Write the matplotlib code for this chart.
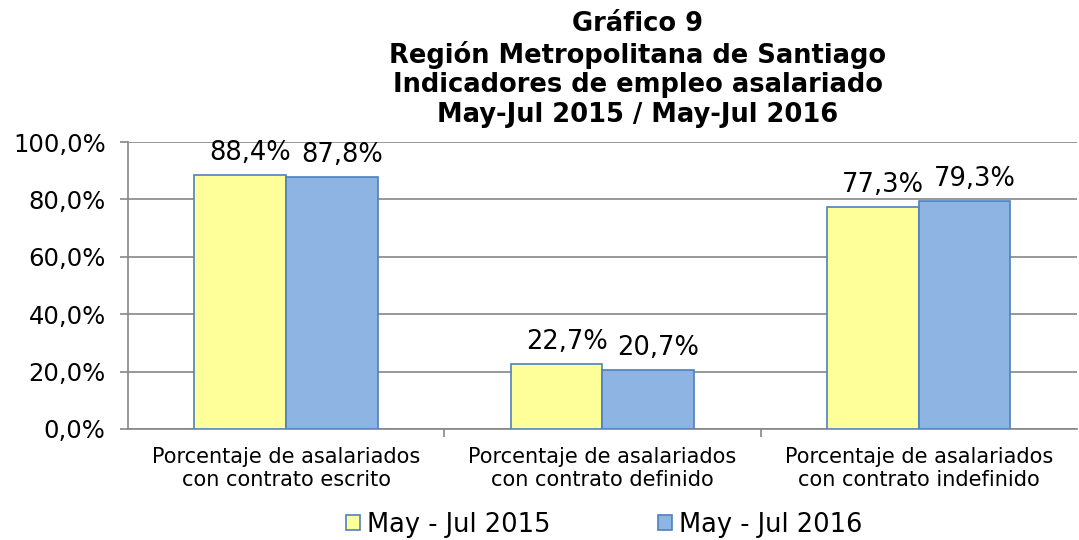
import numpy as np
import matplotlib.pyplot as plt
from matplotlib.ticker import FuncFormatter
from matplotlib.transforms import offset_copy

# data
categorias = ["Porcentaje de asalariados\ncon contrato escrito",
              "Porcentaje de asalariados\ncon contrato definido",
              "Porcentaje de asalariados\ncon contrato indefinido"]
serie_2015 = [88.4, 22.7, 77.3]
serie_2016 = [87.8, 20.7, 79.3]
etiquetas = ["May - Jul 2015", "May - Jul 2016"]
titulo = "Gráfico 9\nRegión Metropolitana de Santiago\nIndicadores de empleo asalariado\nMay-Jul 2015 / May-Jul 2016"

plt.rcParams['font.family'] = ['DejaVu Sans']

fig = plt.figure(figsize=(10.79, 5.4), dpi=100)
ax = fig.add_axes([0.1186, 0.2056, 0.8794, 0.5314])

x = np.arange(len(categorias))
w = 0.29
edge = "#4F81BD"
b1 = ax.bar(x - w/2, serie_2015, w, color="#FFFF99", edgecolor=edge, linewidth=1.2, label=etiquetas[0], zorder=3)
b2 = ax.bar(x + w/2, serie_2016, w, color="#8EB4E3", edgecolor=edge, linewidth=1.2, label=etiquetas[1], zorder=3)

# value labels, nudged a bit right like the original
lbl_tr = offset_copy(ax.transData, fig=fig, x=10, y=9, units="dots")
for bars, vals in ((b1, serie_2015), (b2, serie_2016)):
    for r, v in zip(bars, vals):
        ax.text(r.get_x() + r.get_width()/2, v, f"{v:.1f}%".replace(".", ","),
                ha="center", va="bottom", fontsize=18.5, transform=lbl_tr)

ax.set_xlim(-0.5, 2.5)
ax.set_ylim(0, 100)
ax.set_yticks(np.arange(0, 101, 20))
ax.yaxis.set_major_formatter(FuncFormatter(lambda v, p: f"{v:.1f}%".replace(".", ",")))
ax.grid(axis="y", color="#868686", linewidth=1.2, zorder=0)
ax.set_xticks(x)
ax.set_xticklabels(categorias, fontsize=15, linespacing=1.2)
ax.set_xticks([0.5, 1.5], minor=True)
ax.tick_params(axis="x", which="major", length=0, pad=13)
ax.tick_params(axis="x", which="minor", length=6, color="#868686", width=1.2)
ax.tick_params(axis="y", labelsize=17.5, length=6, color="#868686", width=1.2, pad=10)
for s in ("top", "right"):
    ax.spines[s].set_visible(False)
for s in ("left", "bottom"):
    ax.spines[s].set_color("#868686")
    ax.spines[s].set_linewidth(1.2)

fig.text(0.591, 0.979, titulo, ha="center", va="top", fontsize=18.5,
         fontweight="bold", linespacing=1.17)

ax.legend(loc="center", bbox_to_anchor=(0.5016, -0.334), ncol=2, frameon=False,
          fontsize=18.5, handlelength=0.55, handleheight=0.55, handletextpad=0.25,
          columnspacing=4.2, borderpad=0)

fig.savefig("out.png", dpi=100)
